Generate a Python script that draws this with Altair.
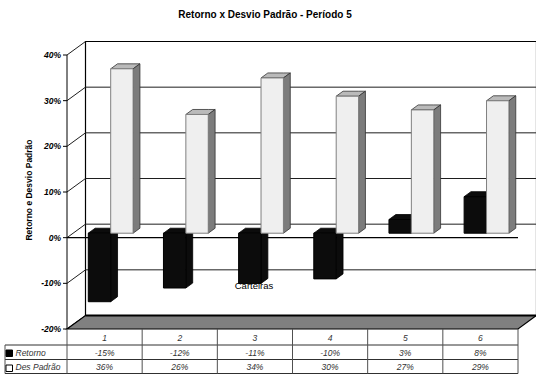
import altair as alt
import pandas as pd

# ---- data -------------------------------------------------------------
categories = ["1", "2", "3", "4", "5", "6"]
retorno = [-15, -12, -11, -10, 3, 8]
des_padrao = [36, 26, 34, 30, 27, 29]
series_names = ["Retorno", "Des Padrão"]
y_ticks = [-20, -10, 0, 10, 20, 30, 40]

TITLE = "Retorno x Desvio Padrão - Período 5"
Y_TITLE = "Retorno e Desvio Padrão"
X_TITLE = "Carteiras"
FONT = "Liberation Sans"

# ---- layout: front plane of the 3D box, in canvas pixels ---------------
CANVAS_W, CANVAS_H = 536, 376
PAD_L, PAD_T = 67, 55
W_PLOT, H_PLOT = 451, 274
X_MIN, X_MAX = 0.5, len(categories) + 0.5
Y_MIN, Y_MAX = y_ticks[0], y_ticks[-1]
PX_X = W_PLOT / (X_MAX - X_MIN)
PX_Y = H_PLOT / (Y_MAX - Y_MIN)


def to_x(px):
    """absolute canvas x -> category units"""
    return X_MIN + (px - PAD_L) / PX_X


def to_y(py):
    """absolute canvas y -> percent units"""
    return Y_MAX - (py - PAD_T) / PX_Y


# depth of the box (back wall offset) and where the bars sit inside it
DX = 18.5 / PX_X
DY = 13.5 / PX_Y
Z0, Z1 = 0.33, 0.70
BAR_W = 22.4 / PX_X

xs = alt.Scale(domain=[X_MIN, X_MAX], nice=False, zero=False)
ys = alt.Scale(domain=[Y_MIN, Y_MAX], nice=False, zero=False)


def ex(field="x"):
    return alt.X(f"{field}:Q", scale=xs, axis=None)


def ey(field="y"):
    return alt.Y(f"{field}:Q", scale=ys, axis=None, stack=None)


# ---- walls, floor and gridlines ---------------------------------------
wall = pd.DataFrame([dict(x=X_MIN + DX, x2=X_MAX + DX, y=Y_MIN + DY, y2=Y_MAX + DY)])
back_grid = pd.DataFrame(
    [dict(x=X_MIN + DX, x2=X_MAX + DX, y=t + DY, y2=t + DY) for t in y_ticks[1:-1]]
)
side_grid = pd.DataFrame(
    [dict(x=X_MIN, x2=X_MIN + DX, y=t, y2=t + DY) for t in y_ticks]
)
floor = pd.DataFrame([
    dict(x=X_MIN, y=Y_MIN, y2=Y_MIN),
    dict(x=X_MIN + DX, y=Y_MIN, y2=Y_MIN + DY),
    dict(x=X_MAX, y=Y_MIN, y2=Y_MIN + DY),
    dict(x=X_MAX + DX, y=Y_MIN + DY, y2=Y_MIN + DY),
])
zero_line = pd.DataFrame([dict(x=X_MIN, x2=X_MAX, y=0, y2=0)])

# ---- value axis (front left edge) -------------------------------------
axis_line = pd.DataFrame([dict(x=X_MIN, y=Y_MIN, y2=Y_MAX)])
axis_ticks = pd.DataFrame([dict(x=to_x(PAD_L - 4), x2=X_MIN, y=t, label=f"{t}%") for t in y_ticks])
axis_ticks["lx"] = to_x(PAD_L - 6)
axis_title = pd.DataFrame([dict(x=to_x(29), y=to_y(190), label=Y_TITLE)])

# ---- 3D bars ----------------------------------------------------------
front_rows, face_rows = [], []
fid = 0
for i, cat in enumerate(categories):
    c = i + 1
    for s, vals, a in ((series_names[0], retorno, c - BAR_W),
                       (series_names[1], des_padrao, c)):
        v = vals[i]
        lo, hi = min(0, v), max(0, v)
        b = a + BAR_W
        front_rows.append(dict(series=s, part=s + " front", cat=cat, value=v,
                               x=a + Z0 * DX, x2=b + Z0 * DX,
                               y=lo + Z0 * DY, y2=hi + Z0 * DY))
        # top face (parallelogram traced as an area between two edges)
        t0, t1 = hi + Z0 * DY, hi + Z1 * DY
        for xx, y1, y2 in ((a + Z0 * DX, t0, t0), (a + Z1 * DX, t0, t1),
                           (b + Z0 * DX, t0, t1), (b + Z1 * DX, t1, t1)):
            face_rows.append(dict(fid=fid, part=s + " top", x=xx, y=y1, y2=y2))
        fid += 1
        # side face
        for xx, y1, y2 in ((b + Z0 * DX, lo + Z0 * DY, hi + Z0 * DY),
                           (b + Z1 * DX, lo + Z1 * DY, hi + Z1 * DY)):
            face_rows.append(dict(fid=fid, part=s + " side", x=xx, y=y1, y2=y2))
        fid += 1

front_df = pd.DataFrame(front_rows)
face_df = pd.DataFrame(face_rows)

parts = [f"{s} {f}" for s in series_names for f in ("front", "top", "side")]
fills = ["#0c0c0c", "#0c0c0c", "#0c0c0c", "#efefef", "#bababa", "#7c7c7c"]
strokes = ["#000000", "#000000", "#000000", "#808080", "#333333", "#333333"]
fill_enc = alt.Color("part:N", scale=alt.Scale(domain=parts, range=fills), legend=None)
stroke_enc = alt.Stroke("part:N", scale=alt.Scale(domain=parts, range=strokes), legend=None)

# ---- data table under the plot ----------------------------------------
ROW_TOP = [329, 345, 359.5, 373.5]
TABLE_LEFT = 5
h_lines = pd.DataFrame(
    [dict(x=to_x(TABLE_LEFT), x2=X_MAX, y=to_y(r), y2=to_y(r)) for r in ROW_TOP[1:]]
)
v_lines = pd.DataFrame(
    [dict(x=X_MIN + k, x2=X_MIN + k, y=Y_MIN, y2=to_y(ROW_TOP[-1]))
     for k in range(len(categories) + 1)]
    + [dict(x=to_x(TABLE_LEFT), x2=to_x(TABLE_LEFT), y=to_y(ROW_TOP[1]), y2=to_y(ROW_TOP[-1]))]
)


def fmt(v):
    return f"{round(v)}%"


table_text = pd.DataFrame(
    [dict(x=k + 1, y=to_y(337.5), label=c) for k, c in enumerate(categories)]
    + [dict(x=k + 1, y=to_y(352.5), label=fmt(v)) for k, v in enumerate(retorno)]
    + [dict(x=k + 1, y=to_y(367), label=fmt(v)) for k, v in enumerate(des_padrao)]
)
legend_keys = pd.DataFrame([
    dict(x=to_x(6), x2=to_x(12.5), y=to_y(356.5), y2=to_y(350), fill="#000000"),
    dict(x=to_x(6), x2=to_x(12.5), y=to_y(371.5), y2=to_y(365), fill="#ffffff"),
])
legend_text = pd.DataFrame([
    dict(x=to_x(15.5), y=to_y(352.5), label=series_names[0]),
    dict(x=to_x(15.5), y=to_y(367), label=series_names[1]),
])
captions = pd.DataFrame([
    dict(x=to_x(265), y=to_y(15), label=TITLE, kind="title"),
    dict(x=to_x(254), y=to_y(286), label=X_TITLE, kind="axis"),
])


def rules(df, color, width):
    return alt.Chart(df).mark_rule(color=color, strokeWidth=width).encode(
        x=ex(), x2="x2:Q", y=ey(), y2="y2:Q")


# ---- layers -----------------------------------------------------------
wall_l = alt.Chart(wall).mark_rect(fill="white", stroke="black", strokeWidth=1.2).encode(
    x=ex(), x2="x2:Q", y=ey(), y2="y2:Q")
back_grid_l = rules(back_grid, "#1e1e1e", 1)
side_grid_l = rules(side_grid, "#1e1e1e", 1)
floor_l = alt.Chart(floor).mark_area(
    orient="vertical", fill="#808080", stroke="black", strokeWidth=1.2, opacity=1
).encode(x=ex(), y=ey(), y2="y2:Q")
back_edge_l = alt.Chart(wall).mark_rule(color="black", strokeWidth=2).encode(
    x=ex(), x2="x2:Q", y=ey())
zero_l = alt.Chart(zero_line).mark_rule(color="black", strokeWidth=1.3).encode(
    x=ex(), x2="x2:Q", y=ey())

axis_line_l = alt.Chart(axis_line).mark_rule(color="black", strokeWidth=1).encode(
    x=ex(), y=ey(), y2="y2:Q")
axis_ticks_l = alt.Chart(axis_ticks).mark_rule(color="black", strokeWidth=1).encode(
    x=ex(), x2="x2:Q", y=ey())
axis_labels_l = alt.Chart(axis_ticks).mark_text(
    font=FONT, fontSize=8.5, fontWeight="bold", fontStyle="italic", color="black",
    align="right", baseline="middle"
).encode(x=ex("lx"), y=ey(), text="label:N")
axis_title_l = alt.Chart(axis_title).mark_text(
    font=FONT, fontSize=8.5, fontWeight="bold", color="black", angle=270,
    align="center", baseline="middle"
).encode(x=ex(), y=ey(), text="label:N")

faces_l = alt.Chart(face_df).mark_area(orient="vertical", strokeWidth=0.8, opacity=1).encode(
    x=ex(), y=ey(), y2="y2:Q", color=fill_enc, stroke=stroke_enc, detail="fid:N")
front_l = alt.Chart(front_df).mark_rect(strokeWidth=1).encode(
    x=ex(), x2="x2:Q", y=ey(), y2="y2:Q",
    color=fill_enc, stroke=stroke_enc,
    tooltip=["cat:N", "series:N", "value:Q"])

h_lines_l = rules(h_lines, "#303030", 1)
v_lines_l = rules(v_lines, "#505050", 1)
table_text_l = alt.Chart(table_text).mark_text(
    font=FONT, fontSize=8.5, fontStyle="italic", color="#333333", baseline="middle"
).encode(x=ex(), y=ey(), text="label:N")
legend_keys_l = alt.Chart(legend_keys).mark_rect(stroke="black", strokeWidth=1).encode(
    x=ex(), x2="x2:Q", y=ey(), y2="y2:Q", fill=alt.Fill("fill:N", scale=None))
legend_text_l = alt.Chart(legend_text).mark_text(
    font=FONT, fontSize=8.5, fontStyle="italic", color="#333333",
    align="left", baseline="middle"
).encode(x=ex(), y=ey(), text="label:N")

title_l = alt.Chart(captions).transform_filter(alt.datum.kind == "title").mark_text(
    font=FONT, fontSize=10, fontWeight="bold", color="black", baseline="middle"
).encode(x=ex(), y=ey(), text="label:N")
xtitle_l = alt.Chart(captions).transform_filter(alt.datum.kind == "axis").mark_text(
    font=FONT, fontSize=9.5, color="black", baseline="middle"
).encode(x=ex(), y=ey(), text="label:N")

chart = alt.layer(
    wall_l, back_grid_l, side_grid_l, floor_l, back_edge_l, zero_l,
    axis_line_l, axis_ticks_l, axis_labels_l, axis_title_l,
    faces_l, front_l, xtitle_l,
    h_lines_l, v_lines_l, table_text_l, legend_keys_l, legend_text_l, title_l,
).properties(
    width=W_PLOT, height=H_PLOT,
    autosize=alt.AutoSizeParams(type="none"),
    padding={"left": PAD_L, "top": PAD_T,
             "right": CANVAS_W - PAD_L - W_PLOT, "bottom": CANVAS_H - PAD_T - H_PLOT},
    background="white",
).configure_view(stroke=None)

chart.save("out.html", embed_options={"renderer": "svg", "actions": False})
